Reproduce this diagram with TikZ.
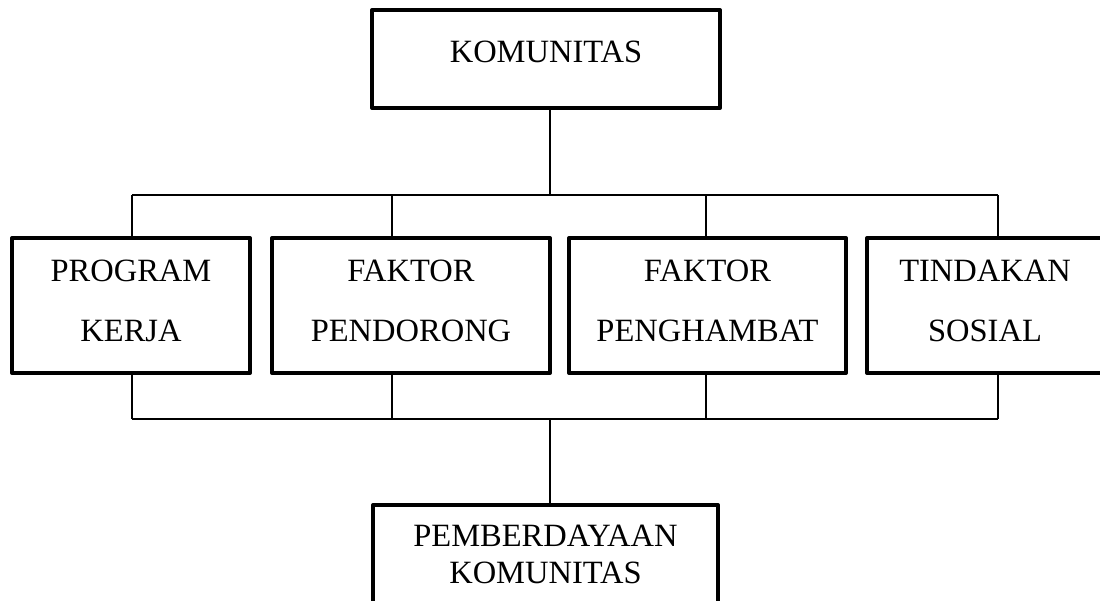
\documentclass[tikz,border=0pt]{standalone}
\usepackage{fontspec}
\setmainfont{Liberation Serif}
\newcommand\lowpad[1]{\rule[-#1pt]{0pt}{#1pt}}
\begin{document}
\begin{tikzpicture}[x=1pt,y=-1pt,
  box/.style={draw, line width=4pt, line join=round, rectangle, inner sep=0pt,
    align=center, font=\fontsize{32.5}{60}\selectfont},
  wire/.style={line width=1.5pt}]
\useasboundingbox (0,0) rectangle (1100,601);
\clip (0,0) rectangle (1100,601);

\node[box, minimum width=348pt, minimum height=98pt] (top) at (546,59) {KOMUNITAS\lowpad{14}};
\node[box, minimum width=238pt, minimum height=135pt] (b1) at (131,305.5) {PROGRAM\\KERJA\lowpad{10}};
\node[box, minimum width=278pt, minimum height=135pt] (b2) at (411,305.5) {FAKTOR\\PENDORONG\lowpad{10}};
\node[box, minimum width=277pt, minimum height=135pt] (b3) at (707.5,305.5) {FAKTOR\\PENGHAMBAT\lowpad{10}};
\node[box, minimum width=236pt, minimum height=135pt] (b4) at (985,305.5) {TINDAKAN\\SOSIAL\lowpad{10}};
\node[box, minimum width=345pt, minimum height=98pt, font=\fontsize{32.5}{37}\selectfont] (bot) at (545.5,554) {PEMBERDAYAAN\\KOMUNITAS};

\coordinate (tt) at (550,195);
\coordinate (t1) at (132,195);
\coordinate (t2) at (392,195);
\coordinate (t3) at (706,195);
\coordinate (t4) at (998,195);
\coordinate (bb) at (550,419);
\coordinate (u1) at (132,419);
\coordinate (u2) at (392,419);
\coordinate (u3) at (706,419);
\coordinate (u4) at (998,419);

\draw[wire] (top.south -| tt) -- (tt);
\draw[wire] (t1) -- (t4);
\draw[wire] (t1) -- (t1 |- b1.north);
\draw[wire] (t2) -- (t2 |- b2.north);
\draw[wire] (t3) -- (t3 |- b3.north);
\draw[wire] (t4) -- (t4 |- b4.north);
\draw[wire] (u1) -- (u4);
\draw[wire] (u1) -- (u1 |- b1.south);
\draw[wire] (u2) -- (u2 |- b2.south);
\draw[wire] (u3) -- (u3 |- b3.south);
\draw[wire] (u4) -- (u4 |- b4.south);
\draw[wire] (bb) -- (bb |- bot.north);
\end{tikzpicture}
\end{document}
